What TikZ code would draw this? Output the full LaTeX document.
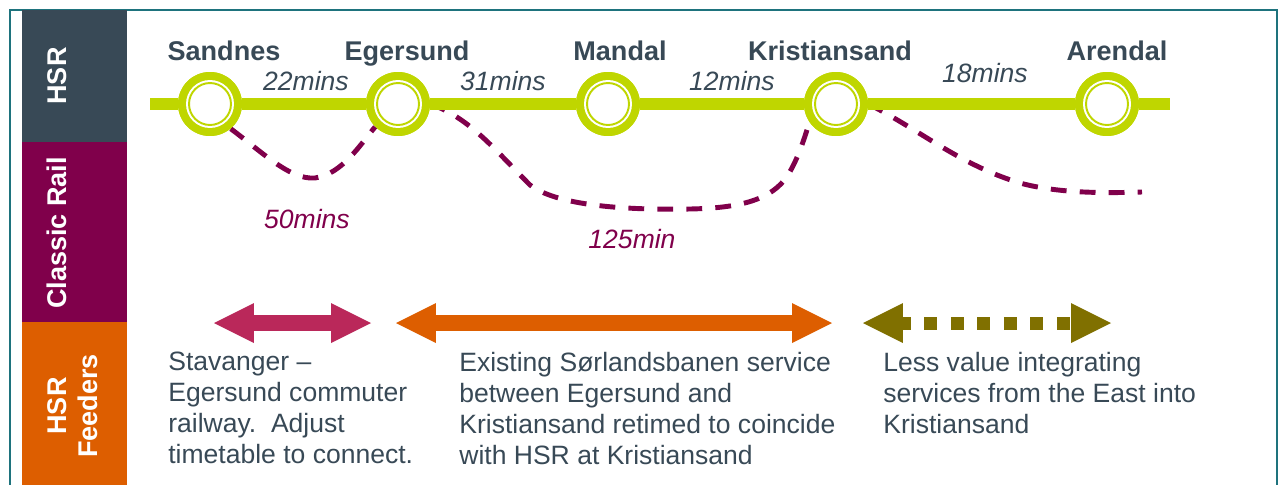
\documentclass[tikz,border=0pt]{standalone}
\usepackage{fontspec}
\setmainfont{Liberation Sans}
\usetikzlibrary{arrows.meta}

\definecolor{hsrgreen}{RGB}{191,214,0}
\definecolor{hsrslate}{RGB}{56,73,86}
\definecolor{railmaroon}{RGB}{128,0,75}
\definecolor{feedorange}{RGB}{221,94,0}
\definecolor{feedpink}{RGB}{186,40,90}
\definecolor{feedolive}{RGB}{128,112,0}
\definecolor{frameteal}{RGB}{30,115,125}

\newcommand{\bigtext}{\fontsize{15.1}{17.6}\selectfont}
\newcommand{\labeltext}{\fontsize{15.4}{17.6}\selectfont}

\tikzset{
  station/.style={circle, fill=hsrgreen, minimum size=1.28cm, inner sep=0pt,
    path picture={
      \fill[white] (path picture bounding box.center) circle (0.48cm);
      \draw[hsrgreen, line width=1.1pt] (path picture bounding box.center) circle (0.42cm);
    }},
  stationlabel/.style={anchor=base, text=hsrslate, font=\labeltext\bfseries},
  hsrtime/.style={anchor=base, text=hsrslate, font=\bigtext\itshape},
  railtime/.style={anchor=base, text=railmaroon, font=\bigtext\itshape},
  classic/.style={railmaroon, line width=2.8pt, dash pattern=on 9pt off 7.5pt},
  sidelabel/.style={rotate=90, text=white, font=\labeltext\bfseries, align=center},
  feedtext/.style={anchor=north west, inner sep=0pt, align=left, text=hsrslate, font=\bigtext},
  feeder/.style={line width=9pt,
    {Triangle[length=0.8cm, width=0.8cm, line width=0pt]}-{Triangle[length=0.8cm, width=0.8cm, line width=0pt]}}
}

\begin{document}
\begin{tikzpicture}[x=0.02cm, y=-0.02cm]
\useasboundingbox (0,0) rectangle (1279,484);

% outer frame and side bar
\draw[frameteal, line width=1.1pt] (10,10) rectangle (1277,520);
\fill[hsrslate] (22,10) rectangle (127,142);
\fill[railmaroon] (22,142) rectangle (127,322);
\fill[feedorange] (22,322) rectangle (127,490);
\node[sidelabel] (lblhsr) at (57,76) {HSR};
\node[sidelabel] (lblrail) at (57,233) {Classic Rail};
\node[sidelabel] (lblfeed) at (73,406) {HSR\\Feeders};

% classic rail (drawn first, behind the line)
\node[station] (sandnes) at (210,104) {};
\node[station] (egersund) at (398,104) {};
\node[station] (mandal) at (608,104) {};
\node[station] (kristiansand) at (836,104) {};
\node[station] (arendal) at (1107,104) {};
\coordinate (hsrwest) at (150,104);
\coordinate (hsreast) at (1170,104);
\coordinate (raileast) at (1142,192);

\draw[classic] (sandnes.-50) .. controls (262,152) and (290,180) .. (315,178)
  .. controls (342,174) and (360,145) .. (egersund.-135);
\draw[classic] (egersund.east) .. controls (470,118) and (495,150) .. (530,185)
  .. controls (560,208) and (640,210) .. (690,209)
  .. controls (740,208) and (772,200) .. (788,175)
  .. controls (800,155) and (805,135) .. (kristiansand.-145);
\draw[classic] (kristiansand.east) .. controls (920,130) and (960,165) .. (1020,183)
  .. controls (1060,194) and (1110,193) .. (raileast);

% high speed line
\draw[hsrgreen, line width=6.8pt] (hsrwest) -- (sandnes) -- (egersund) -- (mandal)
  -- (kristiansand) -- (arendal) -- (hsreast);
\foreach \s in {sandnes, egersund, mandal, kristiansand, arendal}
  \node[station] at (\s) {};

\node[stationlabel] (nsandnes) at (224,60) {Sandnes};
\node[stationlabel] (negersund) at (407,60) {Egersund};
\node[stationlabel] (nmandal) at (620,60) {Mandal};
\node[stationlabel] (nkristiansand) at (830,60) {Kristiansand};
\node[stationlabel] (narendal) at (1117,60) {Arendal};

\node[hsrtime] (t1) at (306,90) {22mins};
\node[hsrtime] (t2) at (503,90) {31mins};
\node[hsrtime] (t3) at (732,90) {12mins};
\node[hsrtime] (t4) at (985,82) {18mins};
\node[railtime] (r1) at (307,228) {50mins};
\node[railtime] (r2) at (632,248) {125min};

% feeder arrows
\coordinate (f1l) at (214,323);
\coordinate (f1r) at (371,323);
\coordinate (f2l) at (396,323);
\coordinate (f2r) at (832,323);
\coordinate (f3l) at (863,323);
\coordinate (f3r) at (1111,323);
\draw[feeder, feedpink] (f1l) -- (f1r);
\draw[feeder, feedorange] (f2l) -- (f2r);
\draw[feeder, feedolive, line width=7.4pt, dash pattern=on 7.4pt off 7.7pt, dash phase=3pt] (f3l) -- (f3r);

\node[feedtext] (d1) at (168,352) {Stavanger --\\Egersund commuter\\railway.\ \ Adjust\\timetable to connect.};
\node[feedtext] (d2) at (459,352) {Existing Sørlandsbanen service\\between Egersund and\\Kristiansand retimed to coincide\\with HSR at Kristiansand};
\node[feedtext] (d3) at (883,352) {Less value integrating\\services from the East into\\Kristiansand};
\end{tikzpicture}
\end{document}
